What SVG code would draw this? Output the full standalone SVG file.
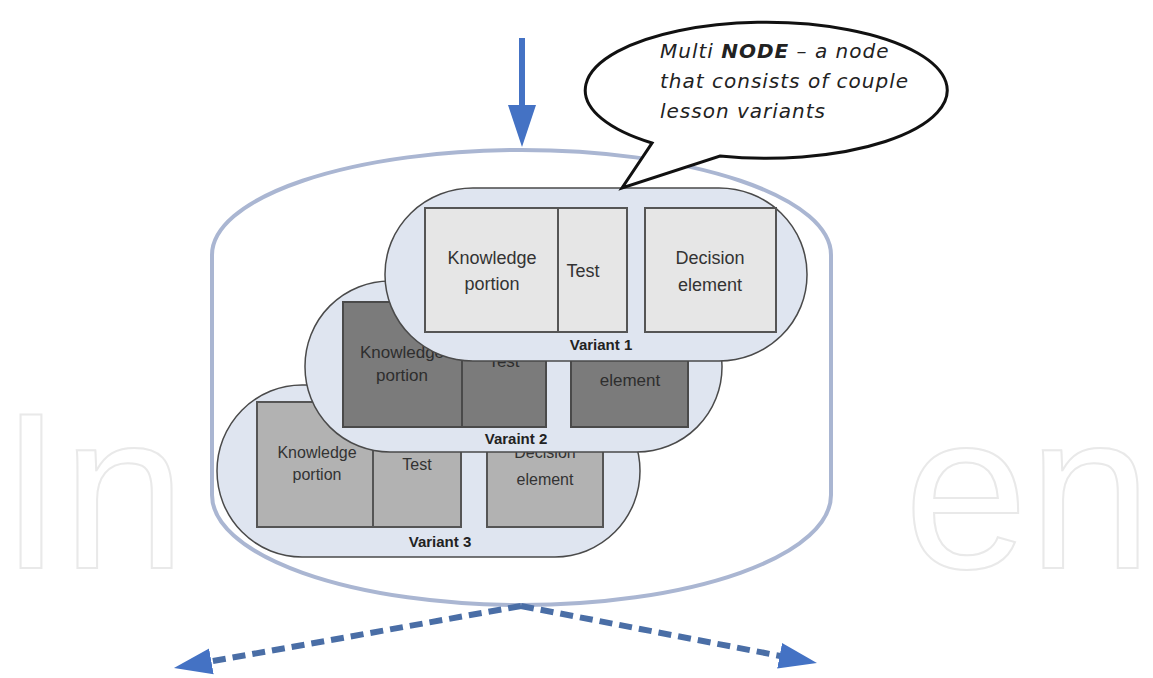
<svg xmlns="http://www.w3.org/2000/svg" width="1153" height="678" viewBox="0 0 1153 678">
  <style>
    .mark { fill: none; stroke: #e9e9e9; stroke-width: 2; font-family: "Liberation Sans", Arial, sans-serif; font-size: 223px; }
    .pill { fill: #dfe5f0; stroke: #4a4a4a; stroke-width: 1.5; }
    .b1 { fill: #e6e6e6; stroke: #555; stroke-width: 2; }
    .b2 { fill: #7b7b7b; stroke: #4a4a4a; stroke-width: 2; }
    .b3 { fill: #b2b2b2; stroke: #555; stroke-width: 2; }
    .lbl { font-family: "Liberation Sans", Arial, sans-serif; fill: #333; text-anchor: middle; }
    .t1 { font-size: 18px; }
    .t2 { font-size: 17px; fill: #2e2e2e; }
    .t3 { font-size: 16px; }
    .vname { font-family: "Liberation Sans", Arial, sans-serif; font-weight: bold; font-size: 15px; fill: #222; text-anchor: middle; }
    .note { font-family: "DejaVu Sans", sans-serif; font-style: italic; font-size: 20px; letter-spacing: 1px; fill: #222; }
    .flow { fill: none; stroke: #4472c4; stroke-width: 6; }
    .dash { fill: none; stroke: #4a6ea6; stroke-width: 6; stroke-dasharray: 13 7; }
  </style>
  <defs>
    <!-- arrowheads start at the line end and point forward -->
    <marker id="headSolid" markerUnits="userSpaceOnUse" markerWidth="44" markerHeight="30" refX="2" refY="15" orient="auto">
      <path d="M0,1 L42,15 L0,29 Z" fill="#4472c4"/>
    </marker>
    <marker id="headDash" markerUnits="userSpaceOnUse" markerWidth="40" markerHeight="30" refX="2" refY="15" orient="auto">
      <path d="M0,2 L38,15 L0,28 Z" fill="#4472c4"/>
    </marker>
  </defs>

  <rect width="1153" height="678" fill="#ffffff"/>

  <!-- background lettering -->
  <g id="watermark">
    <text class="mark" x="0" y="568">In</text>
    <text class="mark" x="1152" y="568" text-anchor="end">en</text>
  </g>

  <!-- outer multi node container -->
  <g id="multi-node">
    <path d="M212,255 A309.5,105 0 0 1 831,255 L831,495 A309.5,110 0 0 1 212,495 Z" fill="#ffffff" stroke="#aab6d2" stroke-width="4"/>
  </g>

  <!-- variant 3 (back) -->
  <g id="variant-3">
    <rect class="pill" x="217" y="385" width="423" height="172" rx="85" ry="86"/>
    <rect class="b3" x="257" y="402" width="116" height="125"/>
    <rect class="b3" x="373" y="402" width="88" height="125"/>
    <rect class="b3" x="487" y="402" width="116" height="125"/>
    <text class="lbl t3" x="317" y="458">Knowledge</text>
    <text class="lbl t3" x="317" y="480">portion</text>
    <text class="lbl t3" x="417" y="470">Test</text>
    <text class="lbl t3" x="545" y="458">Decision</text>
    <text class="lbl t3" x="545" y="485">element</text>
    <text class="vname" x="440" y="547">Variant 3</text>
  </g>

  <!-- variant 2 (middle) -->
  <g id="variant-2">
    <rect class="pill" x="305" y="281" width="417" height="171" rx="85" ry="85"/>
    <rect class="b2" x="343" y="302" width="119" height="125"/>
    <rect class="b2" x="462" y="302" width="84" height="125"/>
    <rect class="b2" x="571" y="302" width="117" height="125"/>
    <text class="lbl t2" x="402" y="358">Knowledge</text>
    <text class="lbl t2" x="402" y="381">portion</text>
    <text class="lbl t2" x="504" y="367">Test</text>
    <text class="lbl t2" x="630" y="386">element</text>
    <text class="vname" x="516" y="444">Varaint 2</text>
  </g>

  <!-- variant 1 (front) -->
  <g id="variant-1">
    <rect class="pill" x="385" y="188" width="422" height="173" rx="88" ry="86"/>
    <rect class="b1" x="425" y="208" width="133" height="124"/>
    <rect class="b1" x="558" y="208" width="69" height="124"/>
    <rect class="b1" x="645" y="208" width="131" height="124"/>
    <text class="lbl t1" x="492" y="264">Knowledge</text>
    <text class="lbl t1" x="492" y="290">portion</text>
    <text class="lbl t1" x="583" y="277">Test</text>
    <text class="lbl t1" x="710" y="264">Decision</text>
    <text class="lbl t1" x="710" y="291">element</text>
    <text class="vname" x="601" y="350">Variant 1</text>
  </g>

  <!-- callout -->
  <g id="callout">
    <path d="M652,143 A181,68 0 1 1 720,156 L622,188 Z" fill="#ffffff" stroke="#111" stroke-width="3" stroke-linejoin="miter"/>
    <text class="note" x="660" y="58">Multi <tspan font-weight="bold">NODE</tspan> – a node</text>
    <text class="note" x="660" y="88">that consists of couple</text>
    <text class="note" x="660" y="118">lesson variants</text>
  </g>

  <!-- connectors -->
  <g id="connectors">
    <line class="flow" x1="522" y1="38" x2="522" y2="107" marker-end="url(#headSolid)"/>
    <line class="dash" x1="521" y1="606" x2="209.4" y2="661.7" marker-end="url(#headDash)"/>
    <line class="dash" x1="521" y1="606" x2="781.6" y2="656.2" marker-end="url(#headDash)"/>
  </g>
</svg>
